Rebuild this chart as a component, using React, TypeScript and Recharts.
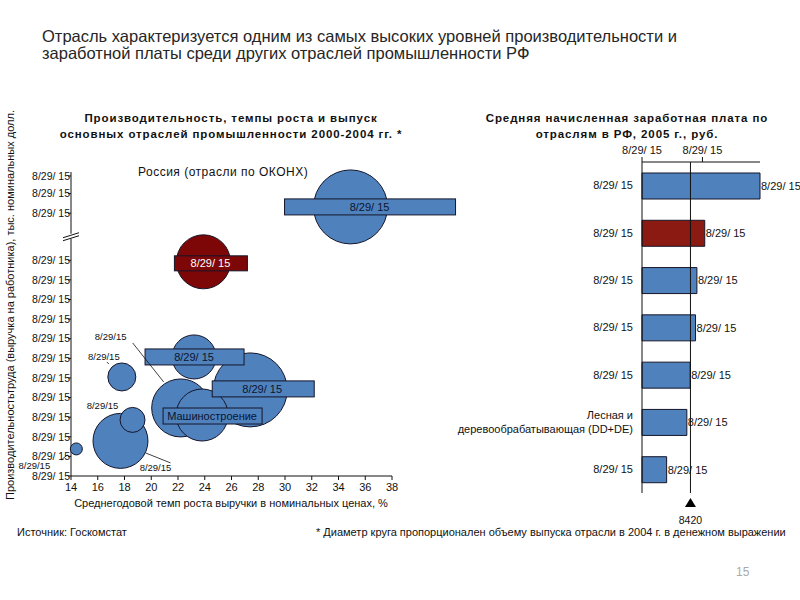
import React from 'react';
import {
  ScatterChart, Scatter, XAxis, YAxis, ZAxis, ReferenceDot,
  BarChart, Bar, Cell, LabelList, ReferenceLine,
} from 'recharts';

const FONT = '"Liberation Sans", Arial, sans-serif';

// ---------- Left chart: bubble data (draw order) ----------
const industryLabels = ['8/29/ 15', '8/29/ 15', '8/29/ 15', '8/29/ 15', '8/29/15', 'Машиностроение', '8/29/15', '8/29/15', '8/29/15', '8/29/15'];
const growthRates = [34.9, 23.9, 23.2, 27.4, 22.2, 23.8, 17.8, 17.7, 18.6, 14.4];
const productivity = [13.72, 10.92, 6.07, 4.39, 3.47, 3.11, 5.05, 1.79, 2.86, 1.38];
const outputVolume = [1369, 729, 484, 1369, 841, 676, 196, 756, 156, 36];
const growthTicks = [14, 16, 18, 20, 22, 24, 26, 28, 30, 32, 34, 36, 38];
const productivityTicks = [0, 1, 2, 3, 4, 5, 6, 7, 8, 9, 10, 11, 13.4, 14.4, 15.3];
const productivityTickLabel = '8/29/ 15';
const axisBreakAt = 12.2;
const russiaIndex = 1;

const bubbleData = industryLabels.map((label, i) => ({
  id: i, label, x: growthRates[i], y: productivity[i], z: outputVolume[i],
}));

// label layout relative to bubble centre (style / layout only)
type BoxLayout = { kind: 'box'; x0: number; x1: number; y0: number; y1: number; tx: number };
type NoteLayout = { kind: 'note'; tx: number; ty: number; line?: number[] };
const labelLayout: (BoxLayout | NoteLayout)[] = [
  { kind: 'box', x0: -66, x1: 105, y0: -8, y1: 8, tx: 19 },
  { kind: 'box', x0: -29, x1: 44, y0: -6, y1: 9, tx: 7 },
  { kind: 'box', x0: -49, x1: 50, y0: -8, y1: 8, tx: 0 },
  { kind: 'box', x0: -38, x1: 64, y0: -9, y1: 7, tx: 12 },
  { kind: 'note', tx: -70, ty: -71, line: [-48, -65, -17, -26] },
  { kind: 'box', x0: -39, x1: 60, y0: -7, y1: 9, tx: 10 },
  { kind: 'note', tx: -18, ty: -20, line: [-15, -15, -13, -13] },
  { kind: 'note', tx: 35, ty: 27, line: [25, 12, 50, 22] },
  { kind: 'note', tx: -30, ty: -14 },
  { kind: 'note', tx: -42, ty: 17, line: [-15, 11, -9, 6] },
];

// ---------- Right chart: wages ----------
const wageCategories = ['8/29/ 15', '8/29/ 15', '8/29/ 15', '8/29/ 15', '8/29/ 15', 'Лесная и|деревообрабатывающая (DD+DE)', '8/29/ 15'];
const wages = [20500, 10900, 9540, 9300, 8370, 7790, 4280];
const wageValueLabels = ['8/29/ 15', '8/29/ 15', '8/29/ 15', '8/29/ 15', '8/29/ 15', '8/29/ 15', '8/29/ 15'];
const wageTicks = [0, 10500];
const wageTickLabels = ['8/29/ 15', '8/29/ 15'];
const averageWage = 8420;
const highlightWageIndex = 1;

const wageData = wageCategories.map((c, i) => ({ key: 'c' + i, wage: wages[i], valueLabel: wageValueLabels[i] }));

const BLUE = '#4f81bd';
const RED = '#7d0606';
const EDGE = '#15152a';

const BubbleShape = (props: any) => {
  const { cx, cy, payload } = props;
  const r = Math.sqrt(Math.max(props.size || 0, 0) / Math.PI);
  return <circle cx={cx} cy={cy} r={r} fill={payload.id === russiaIndex ? RED : BLUE} stroke={EDGE} strokeWidth={1} />;
};

const LabelShape = (props: any) => {
  const { cx, cy, payload } = props;
  const l = labelLayout[payload.id];
  if (!l) return <g />;
  if (l.kind === 'box') {
    const red = payload.id === russiaIndex;
    return (
      <g>
        <rect x={cx + l.x0} y={cy + l.y0} width={l.x1 - l.x0} height={l.y1 - l.y0} fill={red ? RED : BLUE} stroke={EDGE} strokeWidth={1} />
        <text x={cx + l.tx} y={cy + (l.y0 + l.y1) / 2} dy="0.35em" textAnchor="middle" fontSize={11} fontFamily={FONT} fill={red ? '#fff' : '#0a1530'}>{payload.label}</text>
      </g>
    );
  }
  return (
    <g>
      {l.line && <line x1={cx + l.line[0]} y1={cy + l.line[1]} x2={cx + l.line[2]} y2={cy + l.line[3]} stroke="#111" strokeWidth={0.8} />}
      <text x={cx + l.tx} y={cy + l.ty} dy="0.35em" textAnchor="middle" fontSize={9.5} fontFamily={FONT} fill="#111">{payload.label}</text>
    </g>
  );
};

const BreakShape = (props: any) => {
  const { cx, cy } = props;
  return (
    <g>
      <rect x={cx - 3} y={cy - 3} width={6} height={5} fill="#fff" />
      <line x1={cx - 8} y1={cy + 1} x2={cx + 8} y2={cy - 4} stroke="#111" strokeWidth={1} />
      <line x1={cx - 8} y1={cy + 4} x2={cx + 8} y2={cy - 1} stroke="#111" strokeWidth={1} />
    </g>
  );
};

const WageTick = (props: any) => {
  const { x, y, payload } = props;
  const idx = parseInt(String(payload.value).slice(1), 10);
  const lines = (wageCategories[idx] || '').split('|');
  const lh = 14.5;
  return (
    <text x={x} y={y - ((lines.length - 1) * lh) / 2} textAnchor="end" fontSize={11} fontFamily={FONT} fill="#111">
      {lines.map((s, i) => (
        <tspan key={i} x={x} dy={i === 0 ? '0.35em' : lh}>{s}</tspan>
      ))}
    </text>
  );
};

const BarValueLabel = (props: any) => {
  const { x, y, width, height, value } = props;
  return (
    <text x={x + width + 1} y={y + height / 2} dy="0.35em" textAnchor="start" fontSize={11} fontFamily={FONT} fill="#111">{value}</text>
  );
};

const AverageMarker = (props: any) => {
  const vb = props.viewBox || {};
  const x = vb.x;
  const yb = (vb.y || 0) + (vb.height || 0);
  return (
    <g>
      <polygon points={`${x - 5.5},${yb + 14} ${x + 5.5},${yb + 14} ${x},${yb + 5}`} fill="#000" />
      <text x={x} y={yb + 27} dy="0.35em" textAnchor="middle" fontSize={10.5} fontFamily={FONT} fill="#111">{averageWage}</text>
    </g>
  );
};

const abs = (x: number, y: number, extra: React.CSSProperties = {}): React.CSSProperties => ({
  position: 'absolute', left: x, top: y, whiteSpace: 'nowrap', fontFamily: FONT, color: '#1a1a1a', ...extra,
});

export default function App() {
  return (
    <div style={{ position: 'absolute', left: 0, top: 0, width: 800, height: 600, background: '#fff', overflow: 'hidden' }}>
      <div style={abs(42, 28, { fontSize: 16.5, lineHeight: '17px', color: '#262626' })}>
        Отрасль характеризуется одним из самых высоких уровней производительности и<br />
        заработной платы среди других отраслей промышленности РФ
      </div>

      <div style={abs(-19, 110, { width: 500, textAlign: 'center', fontSize: 11.5, fontWeight: 'bold', lineHeight: '16px', letterSpacing: 0.9, color: '#111' })}>
        Производительность, темпы роста и выпуск<br />
        основных отраслей промышленности 2000-2004 гг. *
      </div>
      <div style={abs(377, 110, { width: 500, textAlign: 'center', fontSize: 11.5, fontWeight: 'bold', lineHeight: '16px', letterSpacing: 0.9, color: '#111' })}>
        Средняя начисленная заработная плата по<br />
        отраслям в РФ, 2005 г., руб.
      </div>

      <div style={{ position: 'absolute', left: 0, top: 100 }}>
        <ScatterChart width={470} height={420} margin={{ top: 72, right: 78, bottom: 14, left: 0 }}>
          <XAxis type="number" dataKey="x" domain={[14, 38]} ticks={growthTicks} interval={0}
            tick={{ fontSize: 11, fontFamily: FONT, fill: '#111' }} tickSize={4} tickMargin={3}
            stroke="#111" height={30} />
          <YAxis type="number" dataKey="y" domain={[0, 15.5]} ticks={productivityTicks} interval={0}
            tickFormatter={() => productivityTickLabel}
            tick={{ fontSize: 10.5, fontFamily: FONT, fill: '#111' }} tickSize={3} tickMargin={-2}
            stroke="#111" width={71} />
          <ZAxis type="number" dataKey="z" domain={[0, 1400]} range={[0, 1400 * Math.PI]} />
          <Scatter data={bubbleData} shape={BubbleShape} isAnimationActive={false} />
          <Scatter data={bubbleData} shape={LabelShape} isAnimationActive={false} />
          <ReferenceDot x={14} y={axisBreakAt} r={0} shape={BreakShape} ifOverflow="visible" />
        </ScatterChart>
      </div>

      <div style={abs(138, 165, { fontSize: 12, letterSpacing: 0.5, color: '#111' })}>Россия (отрасли по ОКОНХ)</div>
      <div style={abs(-19, 497, { width: 500, textAlign: 'center', fontSize: 11, color: '#111' })}>
        Среднегодовой темп роста выручки в номинальных ценах, %
      </div>
      <div style={abs(10 - 250, 305 - 7, { width: 500, textAlign: 'center', fontSize: 11, lineHeight: '14px', transform: 'rotate(-90deg)', color: '#111' })}>
        Производительностьтруда (выручка на работника), тыс. номинальных долл.
      </div>

      <div style={{ position: 'absolute', left: 420, top: 100 }}>
        <BarChart width={380} height={440} layout="vertical" data={wageData}
          margin={{ top: 42, right: 40, bottom: 47, left: 0 }}>
          <XAxis type="number" orientation="top" domain={[0, 20500]} ticks={wageTicks} interval={0}
            tickFormatter={(v: number, i: number) => wageTickLabels[i]}
            tick={{ fontSize: 11, fontFamily: FONT, fill: '#111' }} tickSize={5} tickMargin={3}
            stroke="#111" height={20} />
          <YAxis type="category" dataKey="key" width={222} tick={<WageTick />} tickLine={false} tickSize={6} tickMargin={3} stroke="#111" />
          <ReferenceLine x={averageWage} stroke="#111" strokeWidth={1} label={<AverageMarker />} ifOverflow="visible" />
          <Bar dataKey="wage" barSize={26} stroke={EDGE} strokeWidth={1} isAnimationActive={false}>
            {wageData.map((d, i) => (
              <Cell key={d.key} fill={i === highlightWageIndex ? '#8b1a12' : BLUE} />
            ))}
            <LabelList dataKey="valueLabel" content={<BarValueLabel />} />
          </Bar>
        </BarChart>
      </div>

      <div style={abs(17, 526, { fontSize: 11, color: '#111' })}>Источник: Госкомстат</div>
      <div style={abs(316, 526, { fontSize: 11, color: '#111' })}>
        * Диаметр круга пропорционален объему выпуска отрасли в 2004 г. в денежном выражении
      </div>
      <div style={abs(736, 565, { fontSize: 12, color: '#aaa', fontFamily: 'Arial, sans-serif' })}>15</div>
    </div>
  );
}
